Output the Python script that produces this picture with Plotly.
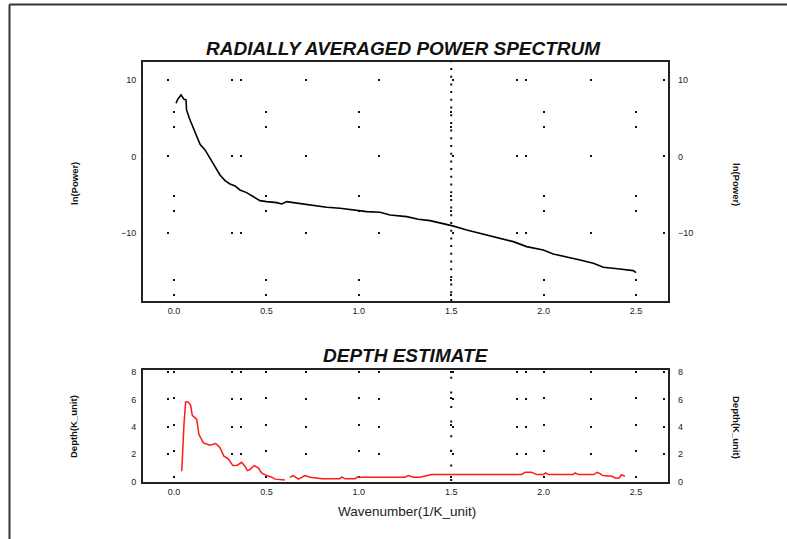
import plotly.graph_objects as go

# ---------------- data ----------------
k_power = [0.011, 0.02, 0.038, 0.054, 0.065, 0.068, 0.083, 0.105, 0.132, 0.141, 0.168,
           0.195, 0.222, 0.249, 0.276, 0.303, 0.33, 0.357, 0.393, 0.429, 0.465, 0.501,
           0.556, 0.583, 0.61, 0.646, 0.70, 0.754, 0.826, 0.898, 0.97, 1.043, 1.115,
           1.169, 1.259, 1.322, 1.385, 1.439, 1.508, 1.584, 1.656, 1.746, 1.836, 1.908,
           1.998, 2.052, 2.125, 2.197, 2.269, 2.323, 2.413, 2.485, 2.5]
ln_power = [6.95, 7.47, 8.04, 7.47, 7.4, 6.08, 4.99, 3.68, 2.16, 1.59, 0.85,
            -0.24, -1.33, -2.42, -3.16, -3.6, -3.86, -4.38, -4.73, -5.25, -5.78, -5.91,
            -6.04, -6.21, -5.91, -6.04, -6.21, -6.47, -6.64, -6.77, -6.99, -7.21, -7.29,
            -7.65, -7.87, -8.21, -8.39, -8.65, -9.08, -9.61, -10.04, -10.56, -11.14, -11.79,
            -12.22, -12.75, -13.1, -13.53, -13.96, -14.48, -14.71, -14.93, -15.19]

k_depth = [0.042, 0.047, 0.054, 0.063, 0.077, 0.09, 0.099, 0.123, 0.135, 0.159, 0.195,
           0.226, 0.249, 0.27, 0.294, 0.318, 0.343, 0.366, 0.384, 0.397, 0.411, 0.433,
           0.456, 0.474, 0.501, 0.529, 0.547, 0.60, 0.61, 0.628, 0.646, 0.673, 0.709,
           0.736, 0.80, 0.898, 0.907, 0.925, 0.98, 0.99, 1.25, 1.268, 1.295, 1.33,
           1.395, 1.88, 1.9, 1.935, 1.963, 2.0, 2.01, 2.026, 2.16, 2.17, 2.19, 2.27,
           2.29, 2.305, 2.32, 2.37, 2.387, 2.41, 2.42, 2.44]
depth = [0.76, 2.47, 4.18, 5.81, 5.81, 5.57, 4.84, 4.54, 3.44, 2.83, 2.66,
         2.78, 2.47, 1.86, 1.66, 1.17, 1.2, 1.41, 1.12, 0.8, 0.88, 1.17,
         1.0, 0.64, 0.44, 0.32, 0.18, 0.12, None, 0.32, 0.44, 0.18, 0.44,
         0.32, 0.2, 0.2, 0.34, 0.2, 0.2, 0.32, 0.32, 0.44, 0.32, 0.32,
         0.51, 0.51, 0.68, 0.68, 0.51, 0.51, 0.63, 0.51, 0.51, 0.63, 0.51, 0.51,
         0.68, 0.58, 0.44, 0.39, 0.27, 0.27, 0.51, 0.39]

x_ticks = [0.0, 0.5, 1.0, 1.5, 2.0, 2.5]
x_ticktext = ["0.0", "0.5", "1.0", "1.5", "2.0", "2.5"]
power_ticks = [-10, 0, 10]
depth_ticks = [0, 2, 4, 6, 8]
marker_k = 1.5

title_top = "RADIALLY AVERAGED POWER SPECTRUM"
title_bottom = "DEPTH ESTIMATE"
xlabel = "Wavenumber(1/K_unit)"
ylabel_top = "ln(Power)"
ylabel_bottom = "Depth(K_unit)"

# ---------------- figure ----------------
FONT = "Liberation Sans, Arial, sans-serif"
AX = "#222222"
tickfont = dict(family=FONT, size=9, color="#222")

fig = go.Figure()
fig.add_trace(go.Scatter(x=k_power, y=ln_power, mode="lines",
                         line=dict(color="black", width=1.6),
                         xaxis="x", yaxis="y", showlegend=False, hoverinfo="skip"))
fig.add_trace(go.Scatter(x=k_depth, y=depth, mode="lines", connectgaps=False,
                         line=dict(color="#ff1a1a", width=1.5),
                         xaxis="x2", yaxis="y2", showlegend=False, hoverinfo="skip"))
# right-side mirror axes (invisible helper traces)
fig.add_trace(go.Scatter(x=k_power, y=ln_power, mode="lines", opacity=0,
                         xaxis="x", yaxis="y3", showlegend=False, hoverinfo="skip"))
fig.add_trace(go.Scatter(x=k_depth, y=depth, mode="lines", opacity=0,
                         xaxis="x2", yaxis="y4", showlegend=False, hoverinfo="skip"))

xr = [-0.1677, 2.673]
yr_top = [-18.9, 12.35]
yr_bot = [-0.03, 8.15]
hgrid_dash = "0px,24px,2px,62px,2px,7px,2px,63px,2px,71px,2px,48px"

common_x = dict(range=xr, tickvals=x_ticks, ticktext=x_ticktext, showline=True,
                mirror=True, linewidth=2, linecolor=AX, ticks="", zeroline=False,
                tickfont=tickfont, showgrid=True, gridcolor="#111", gridwidth=2)
common_yl = dict(showline=True, mirror=True, linewidth=2, linecolor=AX, ticks="",
                 zeroline=False, tickfont=tickfont, showgrid=True, gridcolor="#111",
                 gridwidth=2, griddash=hgrid_dash, ticklabelstandoff=3)
common_yr = dict(side="right", showgrid=False, zeroline=False, ticks="",
                 showline=False, tickfont=tickfont, ticklabelstandoff=9)
fig.update_layout(
    width=787, height=539,
    margin=dict(l=143, r=119, t=62, b=57),
    paper_bgcolor="white", plot_bgcolor="white",
    xaxis=dict(domain=[0, 1], anchor="y", griddash="0px,49px,2px,13px,2px,18px", **common_x),
    xaxis2=dict(domain=[0, 1], anchor="y2", griddash="0px,1px,2px,23.3px", **common_x),
    yaxis=dict(domain=[0.431, 1], anchor="x", range=yr_top, tickvals=power_ticks, **common_yl),
    yaxis3=dict(overlaying="y", anchor="x", range=yr_top, tickvals=power_ticks, **common_yr),
    yaxis2=dict(domain=[0, 0.2667], anchor="x2", range=yr_bot, tickvals=depth_ticks, **common_yl),
    yaxis4=dict(overlaying="y2", anchor="x2", range=yr_bot, tickvals=depth_ticks, **common_yr),
)

# dotted marker line at wavenumber 1.5
fig.add_shape(type="line", xref="x", yref="y domain", x0=marker_k, x1=marker_k, y0=0, y1=1,
              line=dict(color="#111", width=2, dash="2px,5.7px"), layer="below")
fig.add_shape(type="line", xref="x2", yref="y2 domain", x0=marker_k, x1=marker_k, y0=0, y1=1,
              line=dict(color="#111", width=2, dash="0px,1px,2px,11.6px"), layer="below")

# outer frame (left and top edges)
fig.add_shape(type="line", xref="paper", yref="paper", x0=-0.2543, x1=-0.2543,
              y0=-0.2, y1=1.1369, line=dict(color="#333", width=2))
fig.add_shape(type="line", xref="paper", yref="paper", x0=-0.2543, x1=1.3,
              y0=1.1369, y1=1.1369, line=dict(color="#333", width=2))

tfont = dict(family=FONT, size=19, color="#111")
ann = dict(xref="paper", yref="paper", showarrow=False, xanchor="center", yanchor="middle")
fig.add_annotation(text="<b><i>" + title_top + "</i></b>", x=0.497, y=1.031, font=tfont, **ann)
fig.add_annotation(text="<b><i>" + title_bottom + "</i></b>", x=0.501, y=0.302, font=tfont, **ann)
lfont = dict(family=FONT, size=9.5, color="#111")
fig.add_annotation(text=xlabel, x=0.502, y=-0.0714,
                   font=dict(family=FONT, size=13.5, color="#222"), **ann)
fig.add_annotation(text="<b>" + ylabel_top + "</b>", x=(74 - 143) / 525, y=(482 - 184) / 420,
                   textangle=-90, font=lfont, **ann)
fig.add_annotation(text="<b>" + ylabel_top + "</b>", x=(737 - 143) / 525, y=(482 - 184) / 420,
                   textangle=90, font=lfont, **ann)
fig.add_annotation(text="<b>" + ylabel_bottom + "</b>", x=(73 - 143) / 525, y=(482 - 427) / 420,
                   textangle=-90, font=lfont, **ann)
fig.add_annotation(text="<b>" + ylabel_bottom + "</b>", x=(737 - 143) / 525, y=(482 - 427) / 420,
                   textangle=90, font=lfont, **ann)

fig.write_html("out.html")
